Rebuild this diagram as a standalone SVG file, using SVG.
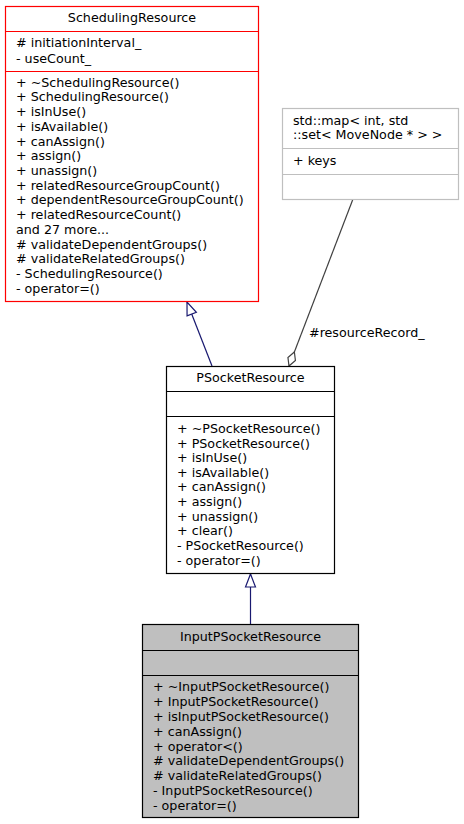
<svg xmlns="http://www.w3.org/2000/svg" width="464" height="824" viewBox="0 0 464 824">
<style>
text{font-family:"DejaVu Sans","Liberation Sans",sans-serif;font-size:12.7px;fill:#000}
.t{text-anchor:middle}
.box{stroke-width:1.2}
.inh{fill:none;stroke:#191970;stroke-width:1.2}
.agg{fill:none;stroke:#404040;stroke-width:1.2}
</style>
<defs>
<marker id="tri" markerUnits="userSpaceOnUse" markerWidth="16" markerHeight="14" refX="13" refY="5.5" orient="auto" overflow="visible">
<path d="M0,0.5 L13,5.5 L0,10.5 z" fill="#fff" stroke="#191970" stroke-width="1.2"/>
</marker>
<marker id="dia" markerUnits="userSpaceOnUse" markerWidth="18" markerHeight="12" refX="15" refY="4.5" orient="auto" overflow="visible">
<path d="M0,4.5 L7.5,0.5 L15,4.5 L7.5,8.5 z" fill="#fff" stroke="#404040" stroke-width="1.2"/>
</marker>
</defs>
<rect width="464" height="824" fill="#fff"/>
<g id="connectors">
<path class="inh" d="M212,366 L187,302" marker-end="url(#tri)"/>
<path class="inh" d="M250.5,624 L250.5,574" marker-end="url(#tri)"/>
<path class="agg" d="M353,199 L289,366" marker-end="url(#dia)"/>
<text x="309" y="337">#resourceRecord_</text>
</g>
<g id="SchedulingResource">
<rect class="box" x="5.5" y="6.5" width="253" height="295" fill="#fff" stroke="#ff0000"/>
<line x1="5.5" y1="31.5" x2="258.5" y2="31.5" stroke="#ff0000" stroke-width="1.2"/>
<line x1="5.5" y1="71.5" x2="258.5" y2="71.5" stroke="#ff0000" stroke-width="1.2"/>
<text class="t" x="132" y="22">SchedulingResource</text>
<text x="16" y="47.3"># initiationInterval_</text>
<text x="16" y="62.9">- useCount_</text>
<text x="16" y="86.6">+ ~SchedulingResource()</text>
<text x="16" y="101.3">+ SchedulingResource()</text>
<text x="16" y="116.1">+ isInUse()</text>
<text x="16" y="130.8">+ isAvailable()</text>
<text x="16" y="145.5">+ canAssign()</text>
<text x="16" y="160.3">+ assign()</text>
<text x="16" y="175">+ unassign()</text>
<text x="16" y="189.7">+ relatedResourceGroupCount()</text>
<text x="16" y="204.4">+ dependentResourceGroupCount()</text>
<text x="16" y="219.2">+ relatedResourceCount()</text>
<text x="16" y="233.9">and 27 more...</text>
<text x="16" y="248.6"># validateDependentGroups()</text>
<text x="16" y="263.4"># validateRelatedGroups()</text>
<text x="16" y="278.1">- SchedulingResource()</text>
<text x="16" y="292.8">- operator=()</text>
</g>
<g id="StdMap">
<rect class="box" x="282.5" y="108.5" width="176" height="91" fill="#fff" stroke="#bfbfbf"/>
<line x1="282.5" y1="148.5" x2="458.5" y2="148.5" stroke="#bfbfbf" stroke-width="1.2"/>
<line x1="282.5" y1="174.5" x2="458.5" y2="174.5" stroke="#bfbfbf" stroke-width="1.2"/>
<text x="293" y="124.6">std::map&lt; int, std</text>
<text x="293" y="139.2">::set&lt; MoveNode * &gt; &gt;</text>
<text x="293" y="164.6">+ keys</text>
</g>
<g id="PSocketResource">
<rect class="box" x="166.5" y="366.5" width="168" height="207" fill="#fff" stroke="#000"/>
<line x1="166.5" y1="391.5" x2="334.5" y2="391.5" stroke="#000" stroke-width="1.2"/>
<line x1="166.5" y1="416.5" x2="334.5" y2="416.5" stroke="#000" stroke-width="1.2"/>
<text class="t" x="250.5" y="382.3">PSocketResource</text>
<text x="177" y="432.9">+ ~PSocketResource()</text>
<text x="177" y="447.5">+ PSocketResource()</text>
<text x="177" y="462.2">+ isInUse()</text>
<text x="177" y="476.8">+ isAvailable()</text>
<text x="177" y="491.4">+ canAssign()</text>
<text x="177" y="506">+ assign()</text>
<text x="177" y="520.7">+ unassign()</text>
<text x="177" y="535.3">+ clear()</text>
<text x="177" y="549.9">- PSocketResource()</text>
<text x="177" y="564.6">- operator=()</text>
</g>
<g id="InputPSocketResource">
<rect class="box" x="142.5" y="624.5" width="216" height="193" fill="#bfbfbf" stroke="#000"/>
<line x1="142.5" y1="650.5" x2="358.5" y2="650.5" stroke="#000" stroke-width="1.2"/>
<line x1="142.5" y1="675.5" x2="358.5" y2="675.5" stroke="#000" stroke-width="1.2"/>
<text class="t" x="250.5" y="641.3">InputPSocketResource</text>
<text x="153" y="691.3">+ ~InputPSocketResource()</text>
<text x="153" y="706.1">+ InputPSocketResource()</text>
<text x="153" y="720.9">+ isInputPSocketResource()</text>
<text x="153" y="735.7">+ canAssign()</text>
<text x="153" y="750.5">+ operator&lt;()</text>
<text x="153" y="765.3"># validateDependentGroups()</text>
<text x="153" y="780.1"># validateRelatedGroups()</text>
<text x="153" y="794.9">- InputPSocketResource()</text>
<text x="153" y="809.7">- operator=()</text>
</g>
</svg>
